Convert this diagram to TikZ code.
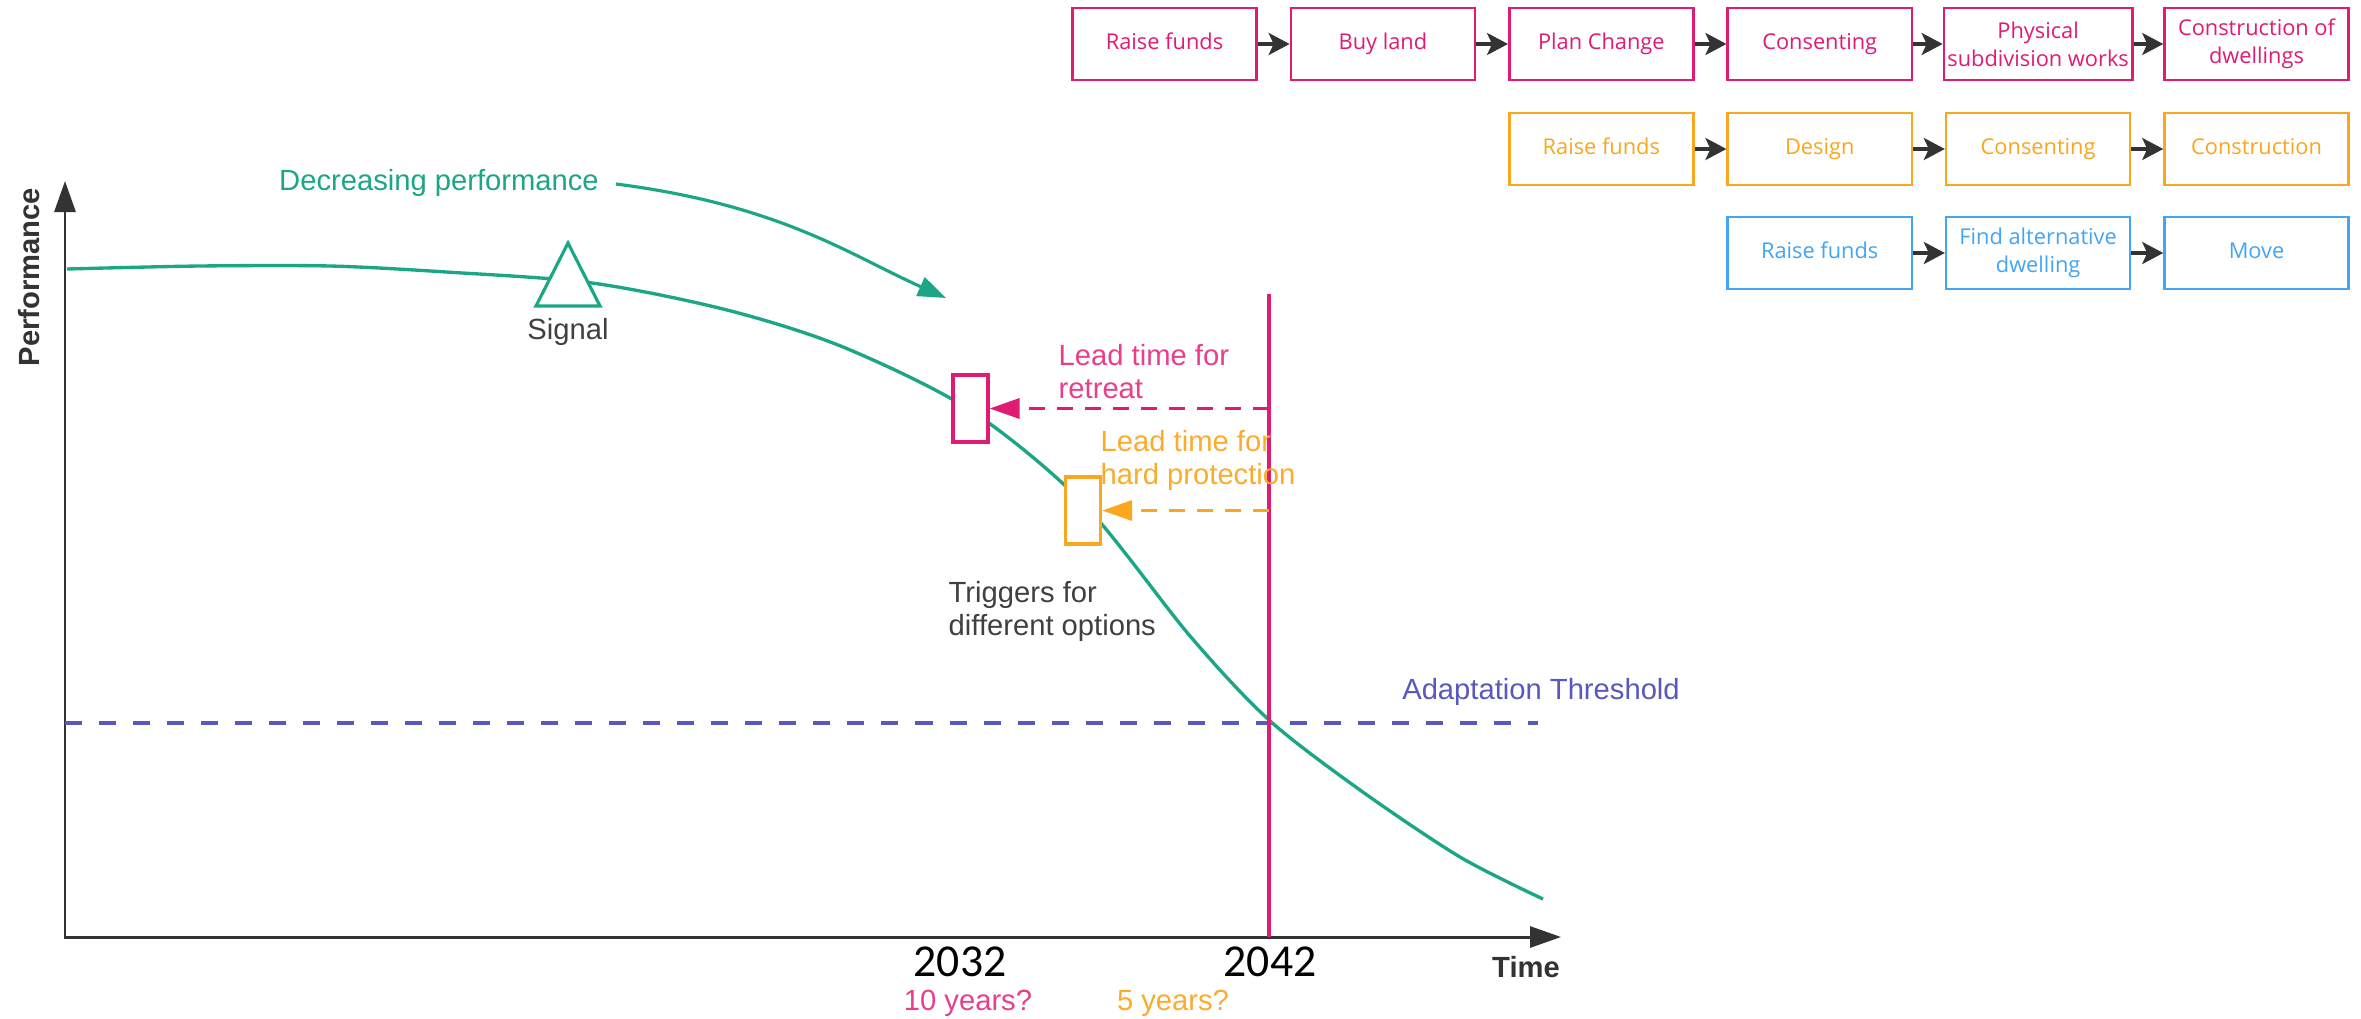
\documentclass[tikz,border=0pt]{standalone}
\usepackage{fontspec}
\setmainfont{Liberation Sans}
\newfontfamily\osans{Open Sans}
\newfontfamily\carlito{Carlito}
\usetikzlibrary{arrows.meta}
\definecolor{pinkc}{RGB}{224,27,116}
\definecolor{pinktxt}{RGB}{232,62,140}
\definecolor{orangec}{RGB}{250,166,30}
\definecolor{orangetxt}{RGB}{251,172,45}
\definecolor{bluec}{RGB}{66,165,245}
\definecolor{greenc}{RGB}{28,166,134}
\definecolor{slatec}{RGB}{88,88,190}
\definecolor{axisc}{RGB}{51,51,51}
\definecolor{graytxt}{RGB}{64,64,64}
\tikzset{
  box/.style={draw, line width=0.7pt, fill=white, minimum width=1.84cm, minimum height=0.72cm,
    inner sep=1pt, align=center, font=\osans\fontsize{6.2}{8}\selectfont},
  one/.style={text height=4.6pt, text depth=1.5pt},
  pbox/.style={box, draw=pinkc, text=pinkc},
  obox/.style={box, draw=orangec, text=orangec},
  bbox/.style={box, draw=bluec, text=bluec},
  flow/.style={draw=axisc, line width=0.9pt, -{Stealth[length=0.21cm,width=0.22cm,inset=0.05cm]}},
  lbl/.style={font=\fontsize{8.3}{9.4}\selectfont, align=left, inner sep=0pt},
  trig/.style={line width=0.9pt, fill=white, minimum width=0.35cm, minimum height=0.67cm, inner sep=0pt},
  lead/.style={line width=1pt, dash pattern=on 0.16cm off 0.12cm, -{Triangle[length=0.3cm,width=0.2cm]}},
}
\begin{document}
\begin{tikzpicture}[x=0.01cm,y=-0.01cm]
\fill[white] (0,0) rectangle (2361,1018);
\useasboundingbox (0,0) rectangle (2361,1018);

% process boxes
\node[pbox, one] (a1) at (1164.5,44) {Raise funds};
\node[pbox, one] (a2) at (1382.9,44) {Buy land};
\node[pbox, one] (a3) at (1601.3,44) {Plan Change};
\node[pbox, one] (a4) at (1819.7,44) {Consenting};
\node[pbox] (a5) at (2038.1,44) {Physical\\subdivision works};
\node[pbox] (a6) at (2256.5,44) {Construction of\\dwellings};
\node[obox, one] (b1) at (1601.3,149) {Raise funds};
\node[obox, one] (b2) at (1819.7,149) {Design};
\node[obox, one] (b3) at (2038.1,149) {Consenting};
\node[obox, one] (b4) at (2256.5,149) {Construction};
\node[bbox, one] (c1) at (1819.7,253) {Raise funds};
\node[bbox] (c2) at (2038.1,253) {Find alternative\\dwelling};
\node[bbox, one] (c3) at (2256.5,253) {Move};
\draw[flow] (a1) -- (a2);
\draw[flow] (a2) -- (a3);
\draw[flow] (a3) -- (a4);
\draw[flow] (a4) -- (a5);
\draw[flow] (a5) -- (a6);
\draw[flow] (b1) -- (b2);
\draw[flow] (b2) -- (b3);
\draw[flow] (b3) -- (b4);
\draw[flow] (c1) -- (c2);
\draw[flow] (c2) -- (c3);

% axes
\coordinate (O) at (65,937);
\coordinate (ytop) at (65,181);
\coordinate (xend) at (1561,937);
\draw[axisc, line width=0.85pt, {Triangle[length=0.31cm,width=0.21cm]}-{Triangle[length=0.31cm,width=0.21cm]}] (ytop) -- (O) -- (xend);
\node[lbl, font=\bfseries\fontsize{8.3}{9.4}\selectfont, text=axisc, rotate=90] (perf) at (29,277) {Performance};
\node[lbl, font=\bfseries\fontsize{8.3}{9.4}\selectfont, text=axisc] (time) at (1526,967) {Time};

% adaptation threshold
\coordinate (al) at (65,723);
\coordinate (ar) at (1538,723);
\draw[slatec, line width=1pt, dash pattern=on 0.17cm off 0.17cm] (al) -- (ar);
\node[lbl, text=slatec] (adapt) at (1541,692) {Adaptation Threshold};

% performance curve
\draw[greenc, line width=0.95pt] plot[smooth, tension=0.5] coordinates {
 (67,269) (200,266) (330,266) (446,272) (592,283) (727,310) (843,347) (970,410) (1083,503)
 (1190,636) (1269,720) (1360,790) (1460,857) (1543,899)};

% signal
\draw[greenc, line width=0.9pt, fill=white, line join=miter] (568,243) -- (600,306) -- (536,306) -- cycle;
\node[lbl, text=graytxt] (sig) at (568,332) {Signal};

% decreasing performance
\node[lbl, text=greenc] (dec) at (439,183) {Decreasing performance};
\coordinate (decstart) at (616,184);
\coordinate (dectip) at (946,298);
\draw[greenc, line width=0.9pt, -{Triangle[length=0.28cm,width=0.2cm]}] (decstart) .. controls (780,205) and (850,255) .. (dectip);

% triggers
\node[trig, draw=pinkc] (tp) at (970.5,408.5) {};
\node[trig, draw=orangec] (to) at (1083,510.5) {};
\node[lbl, text=graytxt, anchor=west] (trigtxt) at (948,611.5) {Triggers for\\different options};

% 2042 line
\coordinate (vt) at (1269,294);
\coordinate (vb) at (1269,937);
\draw[pinkc, line width=1.1pt] (vt) -- (vb);

\draw[pinkc, lead] (tp.east -| vt) -- (tp.east);
\draw[orangec, lead] (to.east -| vt) -- (to.east);
\node[lbl, text=pinktxt, anchor=west] (ltr) at (1058,371.5) {Lead time for\\retreat};
\node[lbl, text=orangetxt, anchor=west] (lth) at (1100,460) {Lead time for\\hard protection};

% years
\node[inner sep=0pt, font=\carlito\fontsize{13}{15}\selectfont] (y1) at (960,962) {2032};
\node[inner sep=0pt, font=\carlito\fontsize{13}{15}\selectfont] (y2) at (1270,962) {2042};
\node[lbl, text=pinktxt] (ten) at (968,1003) {10 years?};
\node[lbl, text=orangetxt] (five) at (1173,1003) {5 years?};
\end{tikzpicture}
\end{document}
